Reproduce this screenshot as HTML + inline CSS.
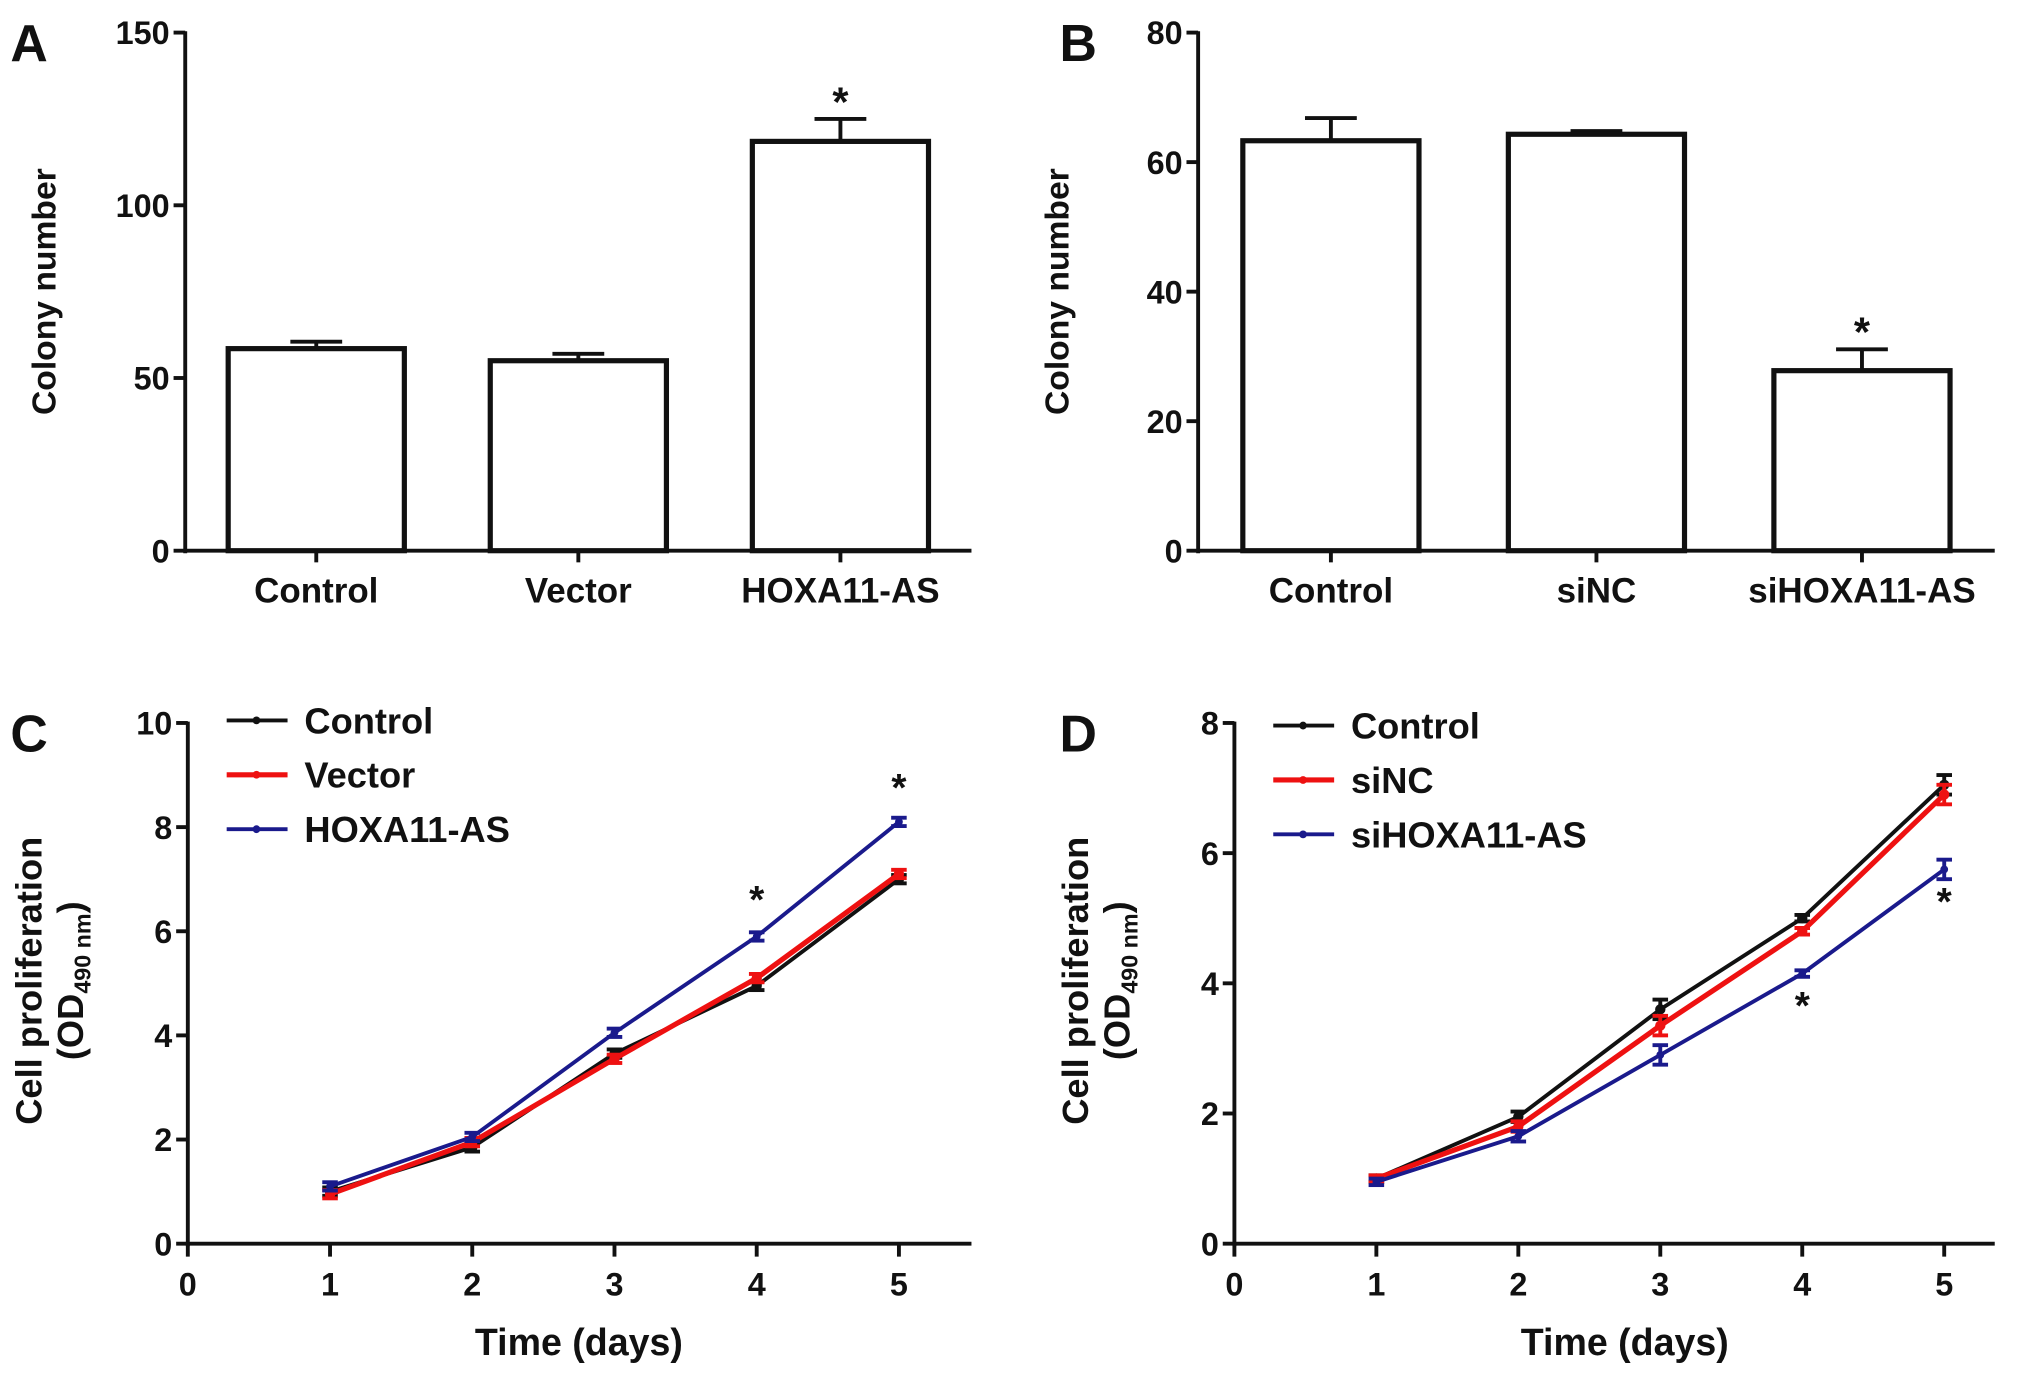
<!DOCTYPE html>
<html><head><meta charset="utf-8"><style>
html,body{margin:0;padding:0;background:#fff}
svg{display:block;font-family:"Liberation Sans",Arial,sans-serif;font-weight:bold}
</style></head><body>
<svg id="fig" width="2031" height="1376" viewBox="0 0 1568 1062" xmlns="http://www.w3.org/2000/svg"></svg>
<script>
// Panel A data
const catsA = ["Control","Vector","HOXA11-AS"];
const valsA = [58.5,55,118.5];
const errA = [2,2,6.5];
const ticksA = [0,50,100,150];
// Panel B data
const catsB = ["Control","siNC","siHOXA11-AS"];
const valsB = [63.3,64.3,27.8];
const errB = [3.5,0.5,3.3];
const ticksB = [0,20,40,60,80];
// Panel C data
const days = [1,2,3,4,5];
const xTicks = [0,1,2,3,4,5];
const namesC = ["Control","Vector","HOXA11-AS"];
const cControl = [1.0,1.85,3.65,4.95,7.0];
const cVector = [0.95,1.95,3.55,5.1,7.1];
const cHoxa = [1.1,2.05,4.05,5.9,8.1];
const ticksC = [0,2,4,6,8,10];
// Panel D data
const namesD = ["Control","siNC","siHOXA11-AS"];
const dControl = [1.0,1.95,3.6,5.0,7.05];
const dSinc = [1.0,1.8,3.35,4.8,6.9];
const dSihoxa = [0.95,1.65,2.9,4.15,5.75];
const dErr = [0.05,0.08,0.15,0.05,0.15];
const ticksD = [0,2,4,6,8];

const NS="http://www.w3.org/2000/svg";
const svg=document.getElementById('fig');
function mk(tag,attrs,parent){const e=document.createElementNS(NS,tag);for(const k in attrs)e.setAttribute(k,attrs[k]);(parent||svg).appendChild(e);return e;}
function txt(s,x,y,size,anchor,parent,extra){const t=mk('text',Object.assign({x:x,y:y,'font-size':size,'text-anchor':anchor||'middle',fill:'#111'},extra||{}),parent);t.textContent=s;return t;}

function barPanel(id,label,lx,cats,vals,errs,ticks,ax){
  const g=mk('g',{});
  
  
  const ymax=ticks[ticks.length-1];
  const y=v=>ax.y0-(v/ymax)*(ax.y0-ax.y1);
  const pl=txt(label,lx,47,40,'start',g);
  
  
  mk('line',{x1:ax.x0,y1:ax.y1-1,x2:ax.x0,y2:ax.y0+2,stroke:'#111','stroke-width':3},g);
  mk('line',{x1:ax.x0,y1:ax.y0,x2:ax.x2,y2:ax.y0,stroke:'#111','stroke-width':3},g);
  ticks.forEach(t=>{
    mk('line',{x1:ax.x0-9,y1:y(t),x2:ax.x0,y2:y(t),stroke:'#111','stroke-width':3},g);
    const tl=txt(String(t),ax.x0-12,y(t)+9,25,'end',g);
    
    
  });
  const yt=txt('Colony number',0,0,26,'middle',g,{transform:`translate(${ax.x0-100},225) rotate(-90)`});
  
  
  const step=(ax.x2-ax.x0)/cats.length, bw=136;
  cats.forEach((c,i)=>{
    const cx=ax.x0+step*(i+0.5);
    mk('line',{x1:cx,y1:y(vals[i]+errs[i]),x2:cx,y2:y(vals[i]),stroke:'#111','stroke-width':3},g);
    mk('line',{x1:cx-20,y1:y(vals[i]+errs[i]),x2:cx+20,y2:y(vals[i]+errs[i]),stroke:'#111','stroke-width':3},g);
    const r=mk('rect',{x:cx-bw/2,y:y(vals[i]),width:bw,height:ax.y0-y(vals[i]),fill:'#fff',stroke:'#111','stroke-width':4},g);
    
    
    mk('line',{x1:cx,y1:ax.y0,x2:cx,y2:ax.y0+9,stroke:'#111','stroke-width':3},g);
    const cl=txt(c,cx,465,27,'middle',g);
    
    
    if(i===2){const s=txt('*',cx,y(vals[i]+errs[i])-2,32,'middle',g);}
  });
}
barPanel('a','A',8,catsA,valsA,errA,ticksA,{x0:143,x2:750,y0:425,y1:25});
barPanel('b','B',818,catsB,valsB,errB,ticksB,{x0:925,x2:1540,y0:425,y1:25});

function linePanel(id,label,lx,names,series,errs,ticks,ax,stars){
  const g=mk('g',{});
  
  
  const ymax=ticks[ticks.length-1];
  const y=v=>ax.y0-(v/ymax)*(ax.y0-ax.y1);
  const x=d=>ax.x0+d*ax.dx;
  const pl=txt(label,lx,580,40,'start',g);
  
  
  mk('line',{x1:ax.x0,y1:ax.y1-1,x2:ax.x0,y2:ax.y0+2,stroke:'#111','stroke-width':3},g);
  mk('line',{x1:ax.x0,y1:ax.y0,x2:ax.x2,y2:ax.y0,stroke:'#111','stroke-width':3},g);
  ticks.forEach(t=>{
    mk('line',{x1:ax.x0-9,y1:y(t),x2:ax.x0,y2:y(t),stroke:'#111','stroke-width':3},g);
    const tl=txt(String(t),ax.x0-12,y(t)+9,25,'end',g);
    
    
  });
  xTicks.forEach(t=>{
    mk('line',{x1:x(t),y1:ax.y0,x2:x(t),y2:ax.y0+10,stroke:'#111','stroke-width':3},g);
    const tl=txt(String(t),x(t),ax.y0+40,25,'middle',g);
    
    
  });
  const xt=txt('Time (days)',x(2.75),1046,29,'middle',g);
  
  
  const y1=txt('Cell proliferation',0,0,28,'middle',g,{transform:`translate(${ax.x0-113},757) rotate(-90)`});
  
  
  const y2=mk('text',{transform:`translate(${ax.x0-81},757) rotate(-90)`,'font-size':28,'text-anchor':'middle',fill:'#111'},g);
  
  
  y2.innerHTML='(OD<tspan font-size="18" dy="6">490 nm</tspan><tspan dy="-6">)</tspan>';
  const colors=['#111','#ee1111','#1a1a8c'];
  series.forEach((s,k)=>{
    const pts=days.map((d,i)=>x(d)+','+y(s[i])).join(' ');
    const pl=mk('polyline',{points:pts,fill:'none',stroke:colors[k],'stroke-width':k===1?4:3},g);
    
    
    days.forEach((d,i)=>{
      const e=errs?errs[i]:0.08;
      mk('line',{x1:x(d),y1:y(s[i]-e),x2:x(d),y2:y(s[i]+e),stroke:colors[k],'stroke-width':3},g);
      mk('line',{x1:x(d)-6,y1:y(s[i]-e),x2:x(d)+6,y2:y(s[i]-e),stroke:colors[k],'stroke-width':3},g);
      mk('line',{x1:x(d)-6,y1:y(s[i]+e),x2:x(d)+6,y2:y(s[i]+e),stroke:colors[k],'stroke-width':3},g);
      const m=mk('circle',{cx:x(d),cy:y(s[i]),r:k===2?3:4,fill:colors[k]},g);
      
      
    });
    const ly=ax.legY+k*42;
    const lg=mk('g',{},g);
    
    
    mk('line',{x1:ax.x0+30,y1:ly,x2:ax.x0+77,y2:ly,stroke:colors[k],'stroke-width':k===1?4:3},lg);
    mk('circle',{cx:ax.x0+53,cy:ly,r:3,fill:colors[k]},lg);
    txt(names[k],ax.x0+90,ly+10,28,'start',lg);
  });
  stars.forEach(st=>{
    const s=txt('*',x(st.d),y(st.v),30,'middle',g);
    
    
  });
}
linePanel('c','C',8,namesC,[cControl,cVector,cHoxa],null,ticksC,{x0:145,x2:750,y0:960,y1:558,dx:109.8,legY:556},[{d:4,v:cHoxa[3]+0.45},{d:5,v:cHoxa[4]+0.4}]);
linePanel('d','D',818,namesD,[dControl,dSinc,dSihoxa],dErr,ticksD,{x0:953,x2:1540,y0:960,y1:558,dx:109.6,legY:560},[{d:4,v:dSihoxa[3]-0.7},{d:5,v:dSihoxa[4]-0.7}]);
</script>
</body></html>
